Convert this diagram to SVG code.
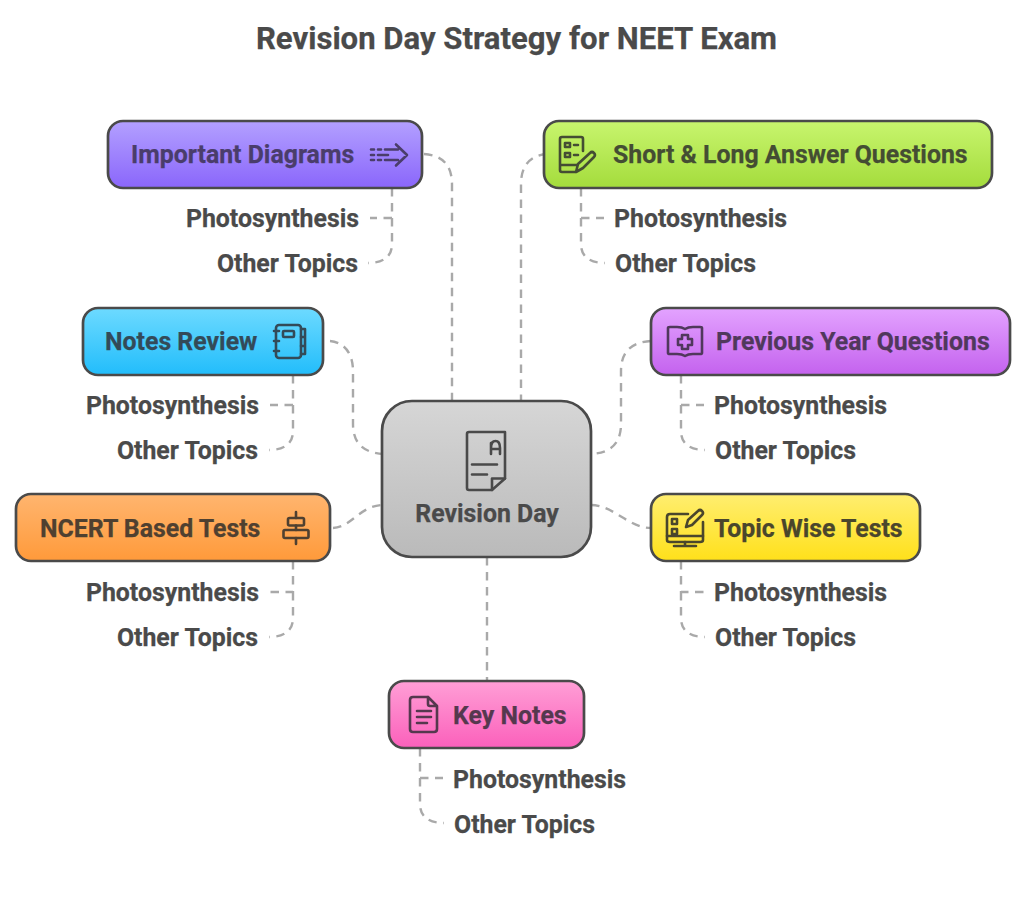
<svg xmlns="http://www.w3.org/2000/svg" width="1024" height="898" viewBox="0 0 1024 898">
<style>
text{font-family:Roboto,"Liberation Sans",sans-serif;font-weight:700;fill:#4a4a4a;stroke:#4a4a4a;stroke-width:.25}
.t{font-size:24.85px}
.s{font-size:24.85px}
.box{stroke:#4a4a4a;stroke-width:2.7}
.c{fill:none;stroke:#a9a9a9;stroke-width:2.4;stroke-dasharray:8.500 6.500}
.i{fill:none;stroke-width:2.6;stroke-linecap:round;stroke-linejoin:round}
</style>
<defs>
<linearGradient id="gp" x1="0" y1="0" x2="0" y2="1"><stop offset="0" stop-color="#b3a0ff"/><stop offset="1" stop-color="#8a66fb"/></linearGradient>
<linearGradient id="gg" x1="0" y1="0" x2="0" y2="1"><stop offset="0" stop-color="#c8f56e"/><stop offset="1" stop-color="#a4dc3c"/></linearGradient>
<linearGradient id="gb" x1="0" y1="0" x2="0" y2="1"><stop offset="0" stop-color="#6ddaff"/><stop offset="1" stop-color="#22bdfb"/></linearGradient>
<linearGradient id="gm" x1="0" y1="0" x2="0" y2="1"><stop offset="0" stop-color="#e3a3ff"/><stop offset="1" stop-color="#c462ee"/></linearGradient>
<linearGradient id="go" x1="0" y1="0" x2="0" y2="1"><stop offset="0" stop-color="#ffb56f"/><stop offset="1" stop-color="#ff9a3a"/></linearGradient>
<linearGradient id="gy" x1="0" y1="0" x2="0" y2="1"><stop offset="0" stop-color="#ffee70"/><stop offset="1" stop-color="#ffe01a"/></linearGradient>
<linearGradient id="gk" x1="0" y1="0" x2="0" y2="1"><stop offset="0" stop-color="#ff9fd6"/><stop offset="1" stop-color="#fb60bb"/></linearGradient>
<linearGradient id="gc" x1="0" y1="0" x2="0" y2="1"><stop offset="0" stop-color="#d6d6d6"/><stop offset="1" stop-color="#bababa"/></linearGradient>
</defs>
<rect width="1024" height="898" fill="#ffffff"/>
<text x="516.5" y="48.500" text-anchor="middle" style="font-size:31.100px">Revision Day Strategy for NEET Exam</text>
<g id="connectors">
<path class="c" d="M424 154C442 155 452 165 452 184V401"/>
<path class="c" d="M547 154C531 155 521 165 521 184V401"/>
<path class="c" d="M330 341C343 342 353 352 353 371V424C353 443 363 453 384 454"/>
<path class="c" d="M651 341C631 342 621 352 621 371V424C621 443 611 453 591 454"/>
<path class="c" d="M333 528C352 527 360 505 384 505"/>
<path class="c" d="M591 505C613 505 629 528 651 528"/>
<path class="c" d="M487 557V681"/>
<path class="c" d="M392 188V218H370M392 218V244C392 256 384 263 368 263"/>
<path class="c" d="M581 188V218H604M581 218V244C581 256 589 263 605 263"/>
<path class="c" d="M293 375V405H270M293 405V431C293 443 285 450 269 450"/>
<path class="c" d="M681 375V405H704M681 405V431C681 443 689 450 705 450"/>
<path class="c" d="M293 561V592H270M293 592V618C293 630 285 637 269 637"/>
<path class="c" d="M681 561V592H704M681 592V618C681 630 689 637 705 637"/>
<path class="c" d="M420 748V778H443M420 778V804C420 816 428 823 444 823"/>
</g>
<g id="node-center">
<rect class="box" x="382" y="401" width="209" height="156" rx="30" fill="url(#gc)"/>
<g class="i" stroke="#4a4a4a">
<path d="M469 432H505V478.500L492 490H469Q467 490 467 488V434Q467 432 469 432Z"/>
<path d="M492 490V478.500H505M491 443V450M491 454V448Q491 441 495.500 441Q500 441 500 448V454M491 449H500"/>
<path d="M472 464.500H497M472 474.500H487"/>
</g>
<text class="t" x="487" y="521.600" text-anchor="middle">Revision Day</text>
</g>
<g id="node-important-diagrams">
<rect class="box" x="108" y="121" width="314" height="67" rx="15" fill="url(#gp)"/>
<text class="t" x="131" y="162.600" style="fill:#4a3d6b;stroke:#4a3d6b">Important Diagrams</text>
<path class="i" stroke="#4a3d6b" d="M371 149.500H374M378 149.500H381M371 155H374M378 155H388M371 160H374M378 160H381M385 149.500H398M385 160H398M396 144.500L407 155L396 165.500"/>
</g>
<g id="node-short-long">
<rect class="box" x="544" y="121" width="448" height="67" rx="15" fill="url(#gg)"/>
<text class="t" x="613" y="162.600" style="fill:#444d33;stroke:#444d33">Short &amp; Long Answer Questions</text>
<g class="i" stroke="#444d33">
<path d="M583 151V139Q583 137 581 137H562Q560 137 560 139V170Q560 172 562 172H575M560 165H577"/>
<rect x="565" y="143" width="5" height="4"/><rect x="565" y="153" width="5" height="4"/>
<path d="M574 145H578M574 155H578M576 172L578 164L590 153Q592 151 594 153Q596 155 594 157L583 168Z"/>
</g>
</g>
<g id="node-notes-review">
<rect class="box" x="83" y="308" width="240" height="67" rx="15" fill="url(#gb)"/>
<text class="t" x="105" y="349.600" style="fill:#334a58;stroke:#334a58">Notes Review</text>
<g class="i" stroke="#334a58">
<rect x="276" y="325" width="25" height="33" rx="3"/>
<path d="M274 331H279M274 341H279M274 351H279M301 329H305V354H301M301 337H305M301 346H305"/>
<rect x="283" y="331" width="11" height="6" rx="1"/>
</g>
</g>
<g id="node-previous-year">
<rect class="box" x="651" y="308" width="359" height="67" rx="15" fill="url(#gm)"/>
<text class="t" x="716" y="349.600" style="fill:#50385c;stroke:#50385c">Previous Year Questions</text>
<g class="i" stroke="#50385c">
<path d="M668 328V353Q668 354 670 354H677Q682 354 685 356Q688 354 693 354H700Q702 354 702 353V328Q702 327 700 327H693Q688 327 685 329Q682 327 677 327H670Q668 327 668 328Z"/>
<path d="M682 335H688V339H692V345H688V349H682V345H678V339H682Z"/>
</g>
</g>
<g id="node-ncert">
<rect class="box" x="16" y="494" width="314" height="67" rx="15" fill="url(#go)"/>
<text class="t" x="40" y="536.500" style="fill:#4f4030;stroke:#4f4030">NCERT Based Tests</text>
<g class="i" stroke="#4f4030">
<rect x="288" y="518" width="16" height="7.500" rx="1.500"/>
<rect x="283.500" y="530" width="25" height="8" rx="1.500"/>
<path d="M296 512V518M296 525.500V530M296 538V544"/>
</g>
</g>
<g id="node-topic-wise">
<rect class="box" x="651" y="494" width="269" height="67" rx="15" fill="url(#gy)"/>
<text class="t" x="714" y="536.500" style="fill:#4a462c;stroke:#4a462c">Topic Wise Tests</text>
<g class="i" stroke="#4a462c">
<path d="M688 514H670Q667 514 667 517V540Q667 542 670 542H700Q703 542 703 540V522"/>
<path d="M667 536H703M685 542V546M674 546H696"/>
<rect x="672" y="519" width="5" height="5"/><rect x="672" y="529" width="5" height="5"/>
<path d="M686 527L688 520L698 511Q700 509 702 511Q704 513 702 515L692 525Z"/>
</g>
</g>
<g id="node-key-notes">
<rect class="box" x="389" y="681" width="195" height="67" rx="15" fill="url(#gk)"/>
<text class="t" x="453" y="723.500" style="fill:#55384e;stroke:#55384e">Key Notes</text>
<g class="i" stroke="#55384e">
<path d="M428 697H413Q410 697 410 700V729Q410 732 413 732H434Q437 732 437 729V706L428 697V704Q428 706 430 706H437"/>
<path d="M417 711H431M417 717H431M417 723H427"/>
</g>
</g>
<g id="labels" transform="translate(0 .6)">
<text class="s" x="359" y="226" text-anchor="end">Photosynthesis</text>
<text class="s" x="358" y="271" text-anchor="end">Other Topics</text>
<text class="s" x="614" y="226">Photosynthesis</text>
<text class="s" x="615" y="271">Other Topics</text>
<text class="s" x="259" y="413" text-anchor="end">Photosynthesis</text>
<text class="s" x="258" y="458" text-anchor="end">Other Topics</text>
<text class="s" x="714" y="413">Photosynthesis</text>
<text class="s" x="715" y="458">Other Topics</text>
<text class="s" x="259" y="600" text-anchor="end">Photosynthesis</text>
<text class="s" x="258" y="645" text-anchor="end">Other Topics</text>
<text class="s" x="714" y="600">Photosynthesis</text>
<text class="s" x="715" y="645">Other Topics</text>
<text class="s" x="453" y="787">Photosynthesis</text>
<text class="s" x="454" y="832">Other Topics</text>
</g>
</svg>
